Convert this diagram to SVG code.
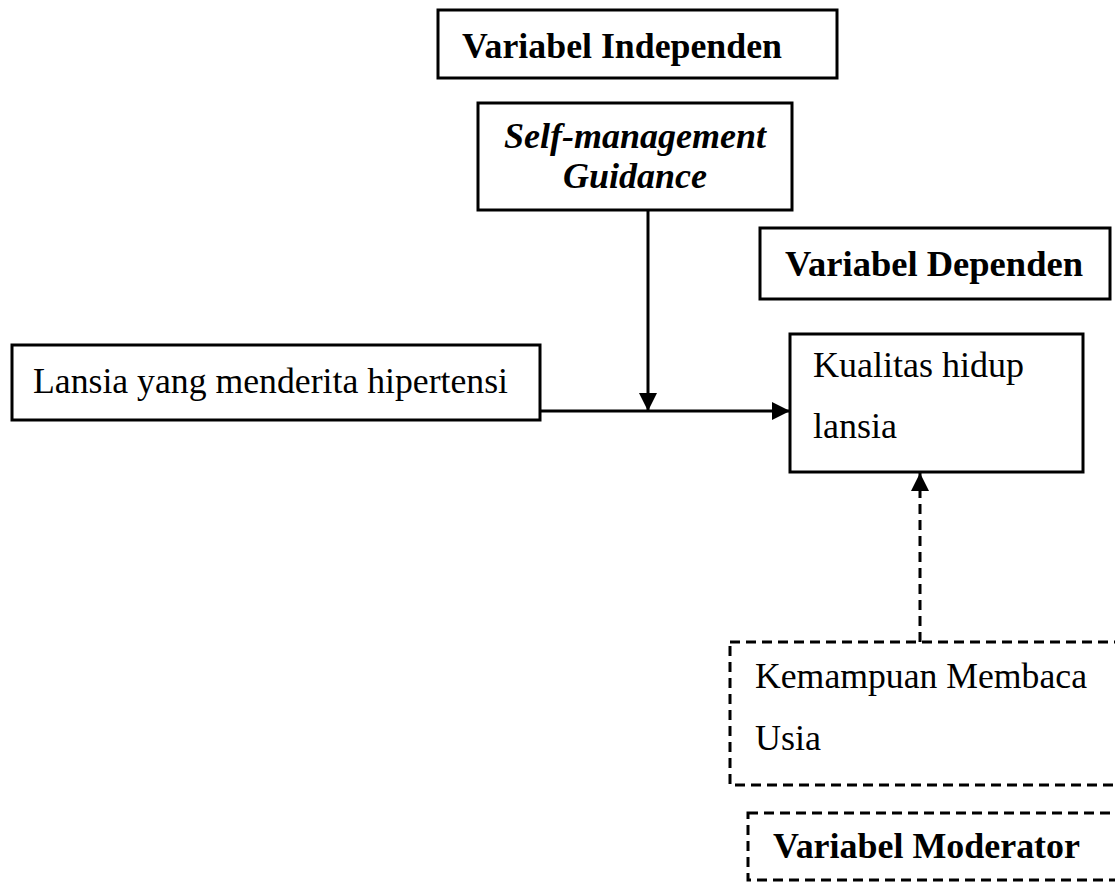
<svg xmlns="http://www.w3.org/2000/svg" width="1115" height="882" viewBox="0 0 1115 882">
<style>
  .box { fill: #fff; stroke: #000; stroke-width: 3; }
  .dbox { fill: none; stroke: #000; stroke-width: 3; stroke-dasharray: 10 6; }
  .t { font-family: "Liberation Serif", "Times New Roman", serif; font-size: 36px; fill: #000; }
  .b { font-weight: bold; }
  .bi { font-weight: bold; font-style: italic; }
  .line { stroke: #000; stroke-width: 3; fill: none; }
  .dline { stroke: #000; stroke-width: 3; fill: none; stroke-dasharray: 10 6; }
</style>
<defs>
  <marker id="arrow" markerUnits="userSpaceOnUse" markerWidth="20" markerHeight="18" refX="18" refY="9" orient="auto">
    <path d="M0,0 L18,9 L0,18 Z" fill="#000"/>
  </marker>
</defs>
<rect width="1115" height="882" fill="#fff"/>

<g id="variabel-independen">
  <rect class="box" x="438" y="10" width="399" height="68"/>
  <text class="t b" x="462" y="58" textLength="320" lengthAdjust="spacingAndGlyphs">Variabel Independen</text>
</g>

<g id="self-management">
  <rect class="box" x="478" y="103" width="314" height="107"/>
  <text class="t bi" x="635" y="148" text-anchor="middle">Self-management</text>
  <text class="t bi" x="635" y="188" text-anchor="middle">Guidance</text>
</g>

<g id="variabel-dependen">
  <rect class="box" x="760" y="228" width="350" height="71"/>
  <text class="t b" x="785" y="276" textLength="298" lengthAdjust="spacingAndGlyphs">Variabel Dependen</text>
</g>

<g id="lansia">
  <rect class="box" x="12" y="345" width="528" height="75"/>
  <text class="t" x="33" y="393" textLength="475" lengthAdjust="spacingAndGlyphs">Lansia yang menderita hipertensi</text>
</g>

<g id="kualitas">
  <rect class="box" x="790" y="334" width="293" height="138"/>
  <text class="t" x="813" y="377">Kualitas hidup</text>
  <text class="t" x="813" y="438">lansia</text>
</g>

<g id="moderator-items">
  <rect class="dbox" x="730" y="642" width="400" height="143"/>
  <text class="t" x="755" y="688" textLength="332" lengthAdjust="spacingAndGlyphs">Kemampuan Membaca</text>
  <text class="t" x="755" y="750">Usia</text>
</g>

<g id="variabel-moderator">
  <rect class="dbox" x="748" y="813" width="400" height="67"/>
  <text class="t b" x="773" y="858" textLength="307" lengthAdjust="spacingAndGlyphs">Variabel Moderator</text>
</g>

<g id="connectors">
  <line class="line" x1="540" y1="411" x2="790" y2="411" marker-end="url(#arrow)"/>
  <line class="line" x1="648" y1="210" x2="648" y2="411" marker-end="url(#arrow)"/>
  <line class="dline" x1="920" y1="642" x2="920" y2="473" marker-end="url(#arrow)"/>
</g>
</svg>
